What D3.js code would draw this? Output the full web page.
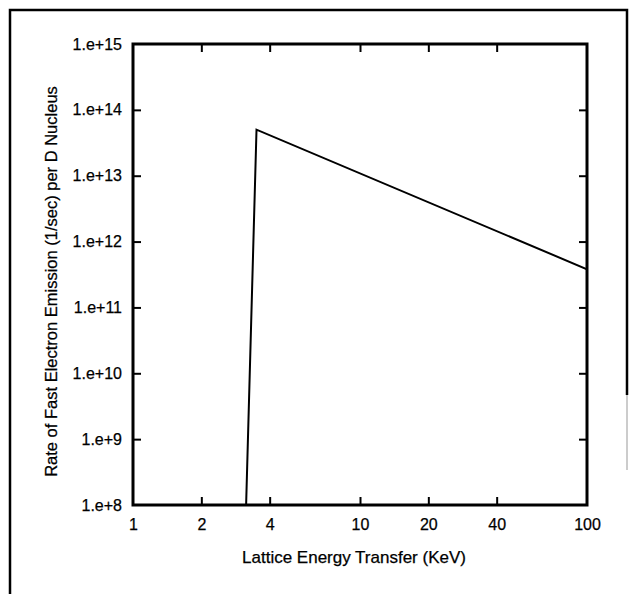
<!DOCTYPE html>
<html>
<head>
<meta charset="utf-8">
<script src="https://cdn.jsdelivr.net/npm/d3@7"></script>
<style>
  body { margin: 0; background: #fff; }
  svg { display: block; font-family: "Liberation Sans", Arial, sans-serif; }
  svg text { stroke: #000; stroke-width: 0.25px; }
</style>
</head>
<body>
<div id="chart"></div>
<script>
// Data
var energyKeV = [3.15, 3.5, 100];          // lattice energy transfer
var emissionRate = [1e8, 5e13, 3.8e11];    // fast electron emission rate (1/sec)

// tick values and labels
var xTicks = [1, 2, 4, 10, 20, 40, 100];
var xTickLabels = ["1", "2", "4", "10", "20", "40", "100"];
var yTicks = [1e8, 1e9, 1e10, 1e11, 1e12, 1e13, 1e14, 1e15];
var yTickLabels = ["1.e+8", "1.e+9", "1.e+10", "1.e+11", "1.e+12", "1.e+13", "1.e+14", "1.e+15"];

var width = 634;
var height = 594;
var margin = { top: 44, right: 47, bottom: 89, left: 133 };
var innerW = width - margin.left - margin.right;
var innerH = height - margin.top - margin.bottom;

var svg = d3.select("#chart")
  .append("svg")
  .attr("width", width)
  .attr("height", height);

// outer box of the figure (scan cut off at the bottom)
svg.append("path")
  .attr("d", "M10,594 L10,10 L627,10 L627,395")
  .attr("fill", "none")
  .attr("stroke", "#000")
  .attr("stroke-width", 2.5);
svg.append("line")
  .attr("x1", 627).attr("x2", 627)
  .attr("y1", 395).attr("y2", 470)
  .attr("stroke", "#bbb")
  .attr("stroke-width", 1.5);

var x = d3.scaleLog()
  .domain([1, 100])
  .range([0, innerW]);

var y = d3.scaleLog()
  .domain([1e8, 1e15])
  .range([innerH, 0]);

var g = svg.append("g")
  .attr("transform", "translate(" + margin.left + "," + margin.top + ")");

// clip the curve to the plot frame
g.append("clipPath")
  .attr("id", "plotclip")
  .append("rect")
  .attr("width", innerW)
  .attr("height", innerH);

// inward ticks on all four sides
var bottomAxis = d3.axisBottom(x)
  .tickValues(xTicks)
  .tickSize(-8)
  .tickPadding(14)
  .tickFormat(function(d, i) { return xTickLabels[i]; });

var topAxis = d3.axisTop(x)
  .tickValues(xTicks.slice(1, -1))
  .tickSize(-8)
  .tickFormat("");

var leftAxis = d3.axisLeft(y)
  .tickValues(yTicks)
  .tickSize(-8)
  .tickPadding(11)
  .tickFormat(function(d, i) { return yTickLabels[i]; });

var rightAxis = d3.axisRight(y)
  .tickValues(yTicks.slice(1, -1))
  .tickSize(-8)
  .tickFormat("");

g.append("g")
  .attr("class", "axis")
  .attr("transform", "translate(0," + innerH + ")")
  .call(bottomAxis);
g.append("g")
  .attr("class", "axis")
  .call(topAxis);
g.append("g")
  .attr("class", "axis")
  .call(leftAxis);
g.append("g")
  .attr("class", "axis")
  .attr("transform", "translate(" + innerW + ",0)")
  .call(rightAxis);

// no tick marks at the frame corners
g.selectAll(".axis .tick line")
  .filter(function(d) { return d === 1 || d === 100 || d === 1e8 || d === 1e15; })
  .remove();

g.selectAll(".axis .domain").remove();
g.selectAll(".axis line")
  .attr("stroke", "#000")
  .attr("stroke-width", 2);
g.selectAll(".axis text")
  .attr("fill", "#000")
  .style("font-size", "16px");

// heavy plot frame
g.append("rect")
  .attr("width", innerW)
  .attr("height", innerH)
  .attr("fill", "none")
  .attr("stroke", "#000")
  .attr("stroke-width", 3);

// the emission curve
var line = d3.line()
  .x(function(d, i) { return x(energyKeV[i]); })
  .y(function(d) { return y(d); });

g.append("path")
  .datum(emissionRate)
  .attr("clip-path", "url(#plotclip)")
  .attr("d", line)
  .attr("fill", "none")
  .attr("stroke", "#000")
  .attr("stroke-width", 2)
  .attr("stroke-linejoin", "miter");

// axis titles
g.append("text")
  .attr("x", innerW / 2 - 6)
  .attr("y", innerH + 58)
  .attr("text-anchor", "middle")
  .style("font-size", "17px")
  .text("Lattice Energy Transfer (KeV)");

g.append("text")
  .attr("transform", "translate(" + (-76) + "," + (innerH / 2 + 7) + ") rotate(-90)")
  .attr("text-anchor", "middle")
  .style("font-size", "16.5px")
  .text("Rate of Fast Electron Emission (1/sec) per D Nucleus");
</script>
</body>
</html>
